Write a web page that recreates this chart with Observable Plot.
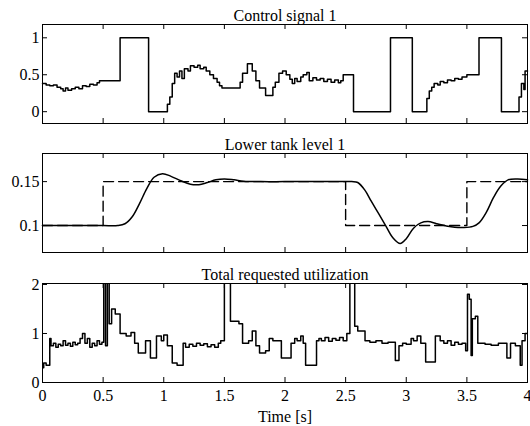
<!DOCTYPE html>
<html><head><meta charset="utf-8">
<script src="https://cdn.jsdelivr.net/npm/d3@7"></script>
<script src="https://cdn.jsdelivr.net/npm/@observablehq/plot@0.6"></script>
<style>
body{margin:0;background:#fff;}
#c{position:relative;width:530px;height:426px;background:#fff;}
#c svg{position:absolute;left:0;}
</style></head><body><div id="c"></div>
<script>
const timeTicks = [0, 0.5, 1, 1.5, 2, 2.5, 3, 3.5, 4];
const titles = ["Control signal 1", "Lower tank level 1", "Total requested utilization"];
const xLabel = "Time [s]";
const yTicksControl = [0, 0.5, 1];
const yTicksLevel = [0.1, 0.15];
const yTicksUtil = [0, 1, 2];

// [time, value] pairs, step-after
const controlSignal = [
  [0,0.38],[0.03,0.36],[0.06,0.35],[0.09,0.36],[0.12,0.33],[0.15,0.31],[0.17,0.28],[0.19,0.32],
  [0.21,0.29],[0.24,0.31],[0.27,0.33],[0.30,0.31],[0.33,0.35],[0.36,0.34],[0.39,0.37],[0.42,0.36],
  [0.45,0.39],[0.47,0.42],[0.64,1],[0.875,0],[1.03,0.1],[1.05,0.2],[1.07,0.38],[1.09,0.52],
  [1.11,0.47],[1.13,0.55],[1.15,0.45],[1.17,0.58],[1.20,0.55],[1.22,0.62],[1.25,0.6],[1.28,0.63],
  [1.30,0.58],[1.33,0.6],[1.35,0.55],[1.38,0.5],[1.41,0.45],[1.44,0.4],[1.46,0.35],[1.48,0.32],
  [1.63,0.4],[1.65,0.52],[1.69,0.65],[1.73,0.55],[1.76,0.42],[1.79,0.32],[1.84,0.22],[1.90,0.33],
  [1.92,0.4],[1.95,0.52],[1.98,0.55],[2.01,0.5],[2.04,0.44],[2.06,0.38],[2.08,0.45],[2.10,0.41],
  [2.13,0.47],[2.15,0.5],[2.18,0.53],[2.20,0.42],[2.23,0.46],[2.26,0.43],[2.29,0.45],[2.32,0.41],
  [2.35,0.44],[2.38,0.4],[2.41,0.43],[2.44,0.39],[2.46,0.42],[2.48,0.5],[2.565,0],[2.87,1],
  [3.05,0],[3.17,0.18],[3.19,0.28],[3.21,0.33],[3.23,0.38],[3.26,0.36],[3.28,0.41],[3.31,0.39],
  [3.34,0.43],[3.37,0.42],[3.40,0.45],[3.43,0.44],[3.46,0.47],[3.50,0.5],[3.60,1],[3.785,0],
  [3.93,0.2],[3.95,0.38],[3.97,0.3],[3.98,0.55],[4.0,0.55]
];

const levelReference = [[0,0.1],[0.5,0.15],[2.5,0.1],[3.5,0.15],[4,0.15]];

const levelMeasured = [
  [0,0.1],[0.3,0.1],[0.5,0.1],[0.62,0.1],[0.68,0.102],[0.74,0.11],[0.8,0.125],[0.86,0.142],
  [0.92,0.155],[0.99,0.159],[1.06,0.156],[1.14,0.151],[1.22,0.147],[1.29,0.1465],[1.36,0.149],
  [1.43,0.152],[1.5,0.153],[1.58,0.152],[1.66,0.1505],[1.8,0.15],[2.0,0.15],[2.3,0.15],[2.55,0.15],
  [2.6,0.149],[2.66,0.14],[2.71,0.128],[2.77,0.114],[2.83,0.1],[2.89,0.086],[2.95,0.0795],[3.0,0.085],
  [3.06,0.097],[3.12,0.103],[3.18,0.1045],[3.25,0.102],[3.33,0.0995],[3.4,0.098],[3.47,0.0977],
  [3.55,0.099],[3.6,0.103],[3.66,0.115],[3.72,0.132],[3.78,0.145],[3.84,0.152],[3.92,0.153],[4.0,0.152]
];

const utilization = [
  [0,0.3],[0.01,0.4],[0.03,0.35],[0.06,0.9],[0.07,0.75],[0.09,0.8],[0.11,0.72],[0.13,0.78],
  [0.15,0.75],[0.17,0.85],[0.19,0.76],[0.21,0.8],[0.23,0.74],[0.25,0.82],[0.27,0.77],[0.29,0.8],
  [0.31,0.9],[0.33,1.0],[0.35,0.8],[0.37,0.9],[0.39,0.72],[0.41,0.8],[0.43,0.75],[0.45,0.85],
  [0.47,0.78],[0.49,0.82],[0.505,2.5],[0.52,0.75],[0.535,2.5],[0.55,1.2],[0.57,1.5],[0.6,1.4],
  [0.64,1.0],[0.69,0.95],[0.73,1.02],[0.76,0.8],[0.79,0.6],[0.85,0.85],[0.89,0.5],[0.94,0.95],
  [0.98,0.85],[1.0,0.97],[1.03,0.75],[1.07,0.4],[1.11,0.35],[1.16,0.8],[1.18,0.72],[1.21,0.78],
  [1.24,0.74],[1.27,0.8],[1.3,0.76],[1.33,0.79],[1.36,0.73],[1.39,0.77],[1.42,0.72],[1.45,0.8],
  [1.47,0.85],[1.5,2.5],[1.55,1.25],[1.62,1.2],[1.65,0.8],[1.7,0.85],[1.73,1.05],[1.76,0.75],
  [1.79,0.6],[1.84,0.65],[1.87,0.9],[1.9,0.85],[1.97,0.5],[2.05,0.8],[2.08,0.9],[2.1,0.85],
  [2.13,0.95],[2.15,0.8],[2.17,0.35],[2.26,0.85],[2.28,0.9],[2.3,0.85],[2.33,0.92],[2.36,0.84],
  [2.39,0.9],[2.42,0.86],[2.45,0.92],[2.48,0.85],[2.51,1.0],[2.535,2.5],[2.575,1.15],[2.6,1.05],
  [2.66,0.85],[2.7,0.82],[2.75,0.85],[2.8,0.8],[2.85,0.82],[2.91,0.45],[2.94,0.75],[2.97,0.8],
  [3.0,0.78],[3.04,0.9],[3.06,0.85],[3.09,0.95],[3.12,0.8],[3.16,0.42],[3.24,0.95],[3.28,0.85],
  [3.31,0.8],[3.34,0.85],[3.37,0.76],[3.40,0.82],[3.43,0.78],[3.46,0.8],[3.49,0.65],[3.505,1.8],
  [3.52,1.7],[3.535,0.55],[3.545,1.3],[3.57,1.35],[3.59,0.8],[3.65,0.78],[3.7,0.76],[3.76,0.8],
  [3.83,0.5],[3.86,0.8],[3.9,0.75],[3.94,0.35],[3.955,0.85],[3.98,1.0],[4.0,1.0]
];

const W = 530, ML = 42, MR = 3, FH = 99, FW = W - ML - MR;
const FONT = "'Liberation Serif', 'Times New Roman', serif";
const FS = 16;
const fmt = d => String(d);

function panel({title, yDomain, yTicks, lines, top, marginTop, marginBottom, xAxis}) {
  const height = marginTop + FH + marginBottom;
  const marks = [
    ...lines,
    Plot.frame({stroke: "black", strokeWidth: 1}),
    Plot.tickY(yTicks, {y: d => d, insetRight: FW - 5, stroke: "black"}),
    Plot.tickY(yTicks, {y: d => d, insetLeft: FW - 5, stroke: "black"}),
    Plot.tickX(timeTicks, {x: d => d, insetTop: FH - 5, stroke: "black"}),
    Plot.tickX(timeTicks, {x: d => d, insetBottom: FH - 5, stroke: "black"}),
    Plot.axisY({ticks: yTicks, tickSize: 0, tickPadding: 3, tickFormat: fmt, fontSize: FS}),
    Plot.text([title], {text: d => d, frameAnchor: "top", lineAnchor: "bottom", dy: -4, fontSize: FS, fill: "black"})
  ];
  if (xAxis) {
    marks.push(Plot.axisX({ticks: timeTicks, tickSize: 0, tickPadding: 7, tickFormat: fmt, fontSize: FS, label: null}));
    marks.push(Plot.text([xLabel], {text: d => d, frameAnchor: "bottom", lineAnchor: "bottom", dy: 39, fontSize: FS, fill: "black"}));
  }
  const svg = Plot.plot({
    width: W, height, marginLeft: ML, marginRight: MR, marginTop, marginBottom,
    x: {domain: [0, 4], axis: xAxis ? undefined : null},
    y: {domain: yDomain},
    style: {fontFamily: FONT, fontSize: FS + "px", color: "black", background: "transparent", overflow: "visible"},
    marks
  });
  svg.style.top = top + "px";
  return svg;
}

const c = document.getElementById("c");
c.append(panel({
  title: titles[0], yDomain: [-0.16, 1.18], yTicks: yTicksControl, top: 0, marginTop: 24, marginBottom: 7,
  lines: [Plot.line(controlSignal, {x: d => d[0], y: d => d[1], curve: "step-after", stroke: "black", strokeWidth: 1.5})]
}));
c.append(panel({
  title: titles[1], yDomain: [0.0693, 0.182], yTicks: yTicksLevel, top: 130, marginTop: 23, marginBottom: 8,
  lines: [
    Plot.line(levelReference, {x: d => d[0], y: d => d[1], curve: "step-after", stroke: "black", strokeWidth: 1.4, strokeDasharray: "10,5"}),
    Plot.line(levelMeasured, {x: d => d[0], y: d => d[1], curve: "catmull-rom", stroke: "black", strokeWidth: 1.5})
  ]
}));
c.append(panel({
  title: titles[2], yDomain: [0, 2.02], yTicks: yTicksUtil, top: 260, marginTop: 23, marginBottom: 44, xAxis: true,
  lines: [Plot.line(utilization, {x: d => d[0], y: d => d[1], curve: "step-after", stroke: "black", strokeWidth: 1.5, clip: true})]
}));
</script></body></html>
